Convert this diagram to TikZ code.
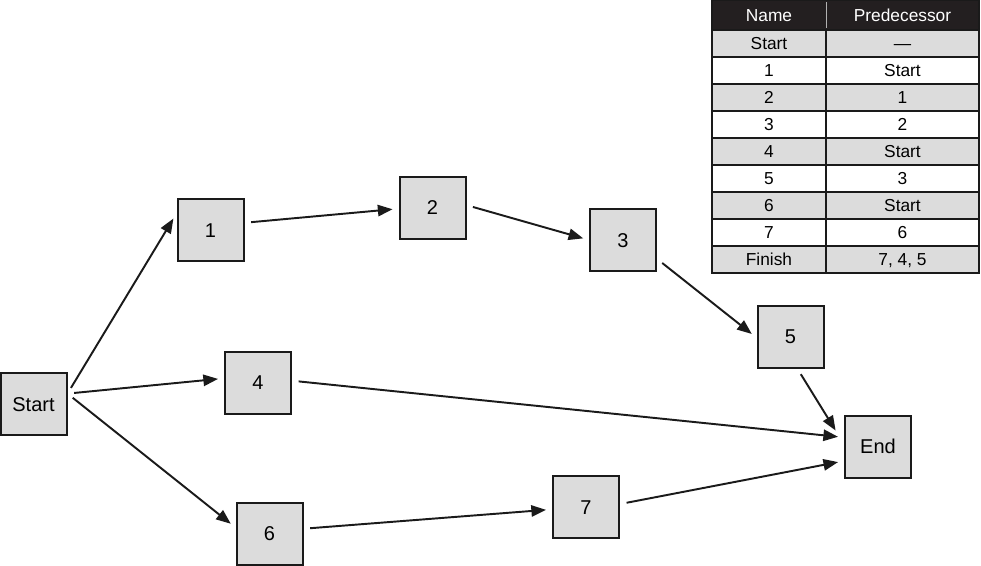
\documentclass[tikz,border=0pt]{standalone}
\usepackage{fontspec}
\setmainfont{Liberation Sans}
\usetikzlibrary{arrows.meta,positioning}
\definecolor{boxfill}{HTML}{DCDCDC}
\definecolor{headfill}{HTML}{231F20}
\definecolor{edgeline}{HTML}{1A1A1A}

\begin{document}
\begin{tikzpicture}[x=.75pt,y=-.75pt,
 task/.style={draw=edgeline,line width=1.5pt,fill=boxfill,minimum width=49.5pt,minimum height=46.5pt,inner sep=0pt,text height=10.7pt,text depth=0pt,font=\fontsize{15}{18}\selectfont},
 link/.style={-{Triangle[length=11pt,width=8.5pt]},draw=edgeline,line width=1.45pt,shorten <=5pt,shorten >=4.5pt},
 cell/.style={inner sep=0pt,text height=9.3pt,text depth=0pt,font=\fontsize{13}{15}\selectfont}]
\useasboundingbox (0,0) rectangle (981,565);
\node[task] (start) at (33.5,404) {Start};
\node[task] (n1) at (210.5,230) {1};
\node[task] (n2) at (432.5,207.5) {2};
\node[task] (n3) at (623,240) {3};
\node[task] (n4) at (258,382.5) {4};
\node[task] (n5) at (790.5,336.5) {5};
\node[task] (n6) at (269.5,533.5) {6};
\node[task] (n7) at (586,507) {7};
\node[task] (end) at (878,446.5) {End};
\draw[link] (start.17) -- (n1.154);
\draw[link] (start.17) -- (n4.173);
\draw[link] (start.17) -- (n6.170);
\draw[link] (n1.12) -- (n2.182);
\draw[link] (n2.4) -- (n3.west);
\draw[link] (n3.331) -- (n5.182);
\draw[link] (n4.3) -- (end.165);
\draw[link,shorten >=12pt] (n5.282) -- (end.176);
\draw[link] (n6.8) -- (n7.184);
\draw[link] (n7.5) -- (end.203);
\fill[headfill] (712,0) rectangle (979,30);
\draw[white!70!black,line width=.6pt] (826,2) -- (826,28);
\node[cell,white] (tnhead) at (769,15) {Name};
\node[cell,white] (tphead) at (902.5,15) {Predecessor};
\foreach \r/\nm/\pr in {1/Start/—,2/1/Start,3/2/1,4/3/2,5/4/Start,6/5/3,7/6/Start,8/7/6,9/Finish/{7, 4, 5}} {
 \ifodd\r\relax
  \fill[boxfill] (712,3+27*\r) rectangle (979,30+27*\r);
 \fi
 \draw[edgeline,line width=1.1pt] (712,3+27*\r) rectangle (826,30+27*\r);
 \draw[edgeline,line width=1.1pt] (826,3+27*\r) rectangle (979,30+27*\r);
 \node[cell] (tn\r) at (769,16.5+27*\r) {\nm};
 \node[cell] (tp\r) at (902.5,16.5+27*\r) {\pr};
}
\draw[edgeline,line width=1.1pt] (712,0) rectangle (979,273);
\end{tikzpicture}
\end{document}
